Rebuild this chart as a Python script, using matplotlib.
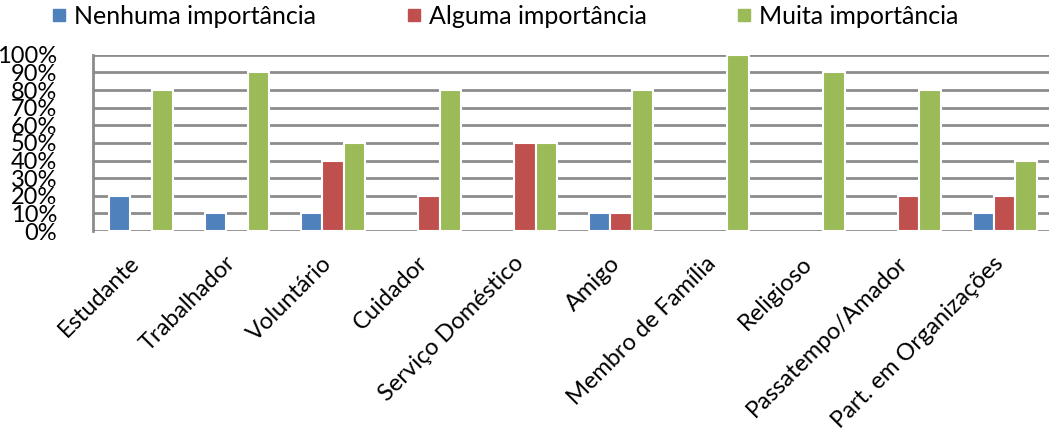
import numpy as np
import matplotlib.pyplot as plt
from matplotlib.lines import Line2D

categories = ["Estudante", "Trabalhador", "Voluntário", "Cuidador", "Serviço Doméstico",
              "Amigo", "Membro de Família", "Religioso", "Passatempo/Amador",
              "Part. em Organizações"]
series_names = ["Nenhuma importância", "Alguma importância", "Muita importância"]
nenhuma = [20, 10, 10, 0, 0, 10, 0, 0, 0, 10]
alguma = [0, 0, 40, 20, 50, 10, 0, 0, 20, 20]
muita = [80, 90, 50, 80, 50, 80, 100, 90, 80, 40]
y_ticks = [0, 10, 20, 30, 40, 50, 60, 70, 80, 90, 100]

colors = ["#4F81BD", "#C0504D", "#9BBB59"]
font = "Lato"
fs = 17

fig = plt.figure(figsize=(10.49, 4.32), dpi=100)
ax = fig.add_axes([0.0887, 0.465, 0.915, 0.408])

x = np.arange(len(categories))
w = 0.22
for i, vals in enumerate([nenhuma, alguma, muita]):
    bars = ax.bar(x + (i - 1) * w, vals, width=w, color=colors[i],
                  edgecolor="white", linewidth=1.5, zorder=3)
    # empty bars would leave a white stroke on the base line
    for b, v in zip(bars, vals):
        if v == 0:
            b.set_visible(False)

ax.set_xlim(-0.5, len(categories) - 0.5)
ax.set_ylim(0, 100)
ax.set_yticks(y_ticks)
ax.set_yticklabels([f"{v}%" for v in y_ticks], fontsize=fs, family=font)
for v in y_ticks:
    ax.axhline(v, color="#8c8c8c", linewidth=2, zorder=1)

ax.set_xticks(x)
ax.set_xticklabels(categories, rotation=45, ha="right", va="baseline",
                   rotation_mode="anchor", fontsize=fs, family=font)
ax.tick_params(axis="both", length=0)
ax.tick_params(axis="y", pad=26)
ax.tick_params(axis="x", pad=24)

for s in ["top", "right", "bottom"]:
    ax.spines[s].set_visible(False)
ax.spines["left"].set_color("#8c8c8c")
ax.spines["left"].set_linewidth(2)

handles = [Line2D([], [], marker="s", linestyle="none", markersize=8,
                  color=c) for c in colors]
fig.legend(handles, series_names, loc="upper left", bbox_to_anchor=(0.028, 1.04),
           ncol=3, frameon=False, handlelength=0.6, handletextpad=0.3,
           columnspacing=3.6, prop={"family": font, "size": 18})

fig.savefig("out.png", dpi=100)
